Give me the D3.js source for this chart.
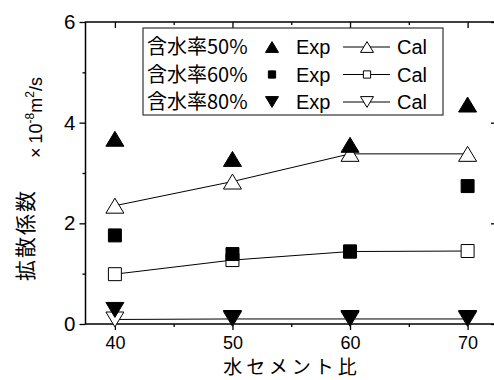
<!DOCTYPE html>
<html>
<head>
<meta charset="utf-8">
<script src="https://cdn.jsdelivr.net/npm/d3@7"></script>
<style>
  body { margin: 0; background: #fff; }
  text { font-family: "Liberation Sans", Arial, "Noto Sans CJK JP", sans-serif; fill: #000; }
  .jp { font-family: "Noto Sans CJK JP", "Liberation Sans", sans-serif; }
</style>
</head>
<body>
<div id="chart"></div>
<script>
// data
var ratios = [40, 50, 60, 70];
var exp50 = [3.68, 3.28, 3.56, 4.36];
var cal50 = [2.35, 2.83, 3.38, 3.38];
var exp60 = [1.76, 1.39, 1.44, 2.74];
var cal60 = [0.99, 1.27, 1.44, 1.45];
var exp80 = [0.28, 0.12, 0.12, 0.12];
var cal80 = [0.09, 0.1, 0.1, 0.1];
var xTicks = [40, 50, 60, 70];
var yTicks = [0, 2, 4, 6];
var legendNames = ["含水率50%", "含水率60%", "含水率80%"];

var W = 494, H = 380;
var margin = {top: 22, right: -3, bottom: 56, left: 85.5},
    width = W - margin.left - margin.right,
    height = H - margin.top - margin.bottom;

var svg = d3.select("#chart")
    .append("svg")
      .attr("width", W)
      .attr("height", H)
    .append("g")
      .attr("transform", "translate(" + margin.left + "," + margin.top + ")");

var x = d3.scaleLinear().domain([37.5, 72.5]).range([0, width]);
var y = d3.scaleLinear().domain([0, 6]).range([height, 0]);

// marker shapes
function shape(type, s, sq) {
    var h = s * 0.83;
    if (type == "up") return "M0," + (-h/2) + "L" + (s/2) + "," + (h/2) + "L" + (-s/2) + "," + (h/2) + "Z";
    if (type == "down") return "M0," + (h/2) + "L" + (s/2) + "," + (-h/2) + "L" + (-s/2) + "," + (-h/2) + "Z";
    var q = s * (sq || 0.36);
    return "M" + (-q) + "," + (-q) + "h" + (2*q) + "v" + (2*q) + "h" + (-2*q) + "Z";
}

// axes (Origin style: bottom/left ticks out, top/right ticks in)
function drawAxes() {
    var minorX = [45, 55, 65], minorY = [1, 3, 5];
    var bottom = svg.append("g").attr("transform", "translate(0," + height + ")")
        .call(d3.axisBottom(x).tickValues(xTicks).tickSize(6).tickPadding(6).tickFormat(d3.format("d")));
    bottom.select(".domain").remove();
    bottom.selectAll("text").style("font-size", "18px");
    svg.append("g").attr("transform", "translate(0," + height + ")")
        .call(d3.axisBottom(x).tickValues(minorX).tickSize(3).tickFormat(""))
        .select(".domain").remove();

    var left = svg.append("g")
        .call(d3.axisLeft(y).tickValues(yTicks).tickSize(6).tickPadding(4).tickFormat(d3.format("d")));
    left.select(".domain").remove();
    left.selectAll("text").style("font-size", "20.5px");
    svg.append("g")
        .call(d3.axisLeft(y).tickValues(minorY).tickSize(3).tickFormat(""))
        .select(".domain").remove();

    svg.append("g")
        .call(d3.axisTop(x).tickValues(xTicks).tickSize(-6).tickFormat(""))
        .select(".domain").remove();
    svg.append("g")
        .call(d3.axisTop(x).tickValues(minorX).tickSize(-3).tickFormat(""))
        .select(".domain").remove();
    svg.append("g").attr("transform", "translate(" + width + ",0)")
        .call(d3.axisRight(y).tickValues(yTicks).tickSize(-6).tickFormat(""))
        .select(".domain").remove();
    svg.append("g").attr("transform", "translate(" + width + ",0)")
        .call(d3.axisRight(y).tickValues(minorY).tickSize(-3).tickFormat(""))
        .select(".domain").remove();

    svg.selectAll(".tick line").attr("stroke", "#000").attr("stroke-width", 1.3);

    svg.append("rect")
        .attr("x", 0).attr("y", 0)
        .attr("width", width).attr("height", height)
        .attr("fill", "none").attr("stroke", "#000").attr("stroke-width", 1.5);
}
drawAxes();

var line = d3.line()
    .x(function(d) { return x(d[0]); })
    .y(function(d) { return y(d[1]); });

var calSeries = [{vals: cal50, type: "up"}, {vals: cal60, type: "sq"}, {vals: cal80, type: "down"}];
var expSeries = [{vals: exp50, type: "up"}, {vals: exp60, type: "sq"}, {vals: exp80, type: "down"}];

calSeries.forEach(function(s) {
    var pts = ratios.map(function(r, i) { return [r, s.vals[i]]; });
    svg.append("path")
        .datum(pts)
        .attr("d", line)
        .attr("fill", "none")
        .attr("stroke", "#000")
        .attr("stroke-width", 1);
    svg.selectAll(null)
        .data(pts)
        .enter()
        .append("path")
          .attr("transform", function(d) { return "translate(" + x(d[0]) + "," + y(d[1]) + ")"; })
          .attr("d", shape(s.type, 18))
          .attr("fill", "#fff")
          .attr("stroke", "#000")
          .attr("stroke-width", 1);
});

expSeries.forEach(function(s) {
    var pts = ratios.map(function(r, i) { return [r, s.vals[i]]; });
    svg.selectAll(null)
        .data(pts)
        .enter()
        .append("path")
          .attr("transform", function(d) { return "translate(" + x(d[0]) + "," + y(d[1]) + ")"; })
          .attr("d", shape(s.type, 18))
          .attr("fill", "#000")
          .attr("stroke", "#000")
          .attr("stroke-width", 1);
});

// legend
var lg = svg.append("g").attr("transform", "translate(" + (143 - margin.left) + "," + (28 - margin.top) + ")");
lg.append("rect")
    .attr("width", 300).attr("height", 87)
    .attr("fill", "#fff").attr("stroke", "#333").attr("stroke-width", 1.2);

legendNames.forEach(function(name, i) {
    var cy = 19 + i * 27.5;
    var t = expSeries[i].type;
    lg.append("text").attr("class", "jp")
        .attr("x", 4).attr("y", cy).attr("dy", "0.35em")
        .style("font-size", "20px")
        .text(name);
    lg.append("path")
        .attr("transform", "translate(129," + cy + ")")
        .attr("d", shape(t, 13, 0.28)).attr("fill", "#000").attr("stroke", "#000");
    lg.append("text")
        .attr("x", 153).attr("y", cy).attr("dy", "0.35em")
        .style("font-size", "20px").text("Exp");
    lg.append("line")
        .attr("x1", 200).attr("x2", 247).attr("y1", cy).attr("y2", cy)
        .attr("stroke", "#000").attr("stroke-width", 1);
    lg.append("path")
        .attr("transform", "translate(224," + cy + ")")
        .attr("d", shape(t, 13, 0.28)).attr("fill", "#fff").attr("stroke", "#000").attr("stroke-width", 1);
    lg.append("text")
        .attr("x", 254).attr("y", cy).attr("dy", "0.35em")
        .style("font-size", "20px").text("Cal");
});

// axis titles
var root = d3.select("svg");
root.append("text").attr("class", "jp")
    .attr("x", 292).attr("y", 374)
    .attr("text-anchor", "middle")
    .style("font-size", "19px")
    .style("letter-spacing", "4px")
    .text("水セメント比");

root.append("text")
    .attr("transform", "translate(33,235) rotate(-90)")
    .attr("text-anchor", "middle")
    .attr("class", "jp")
    .style("font-size", "21px")
    .style("letter-spacing", "2px")
    .text("拡散係数");

var yu = root.append("text")
    .attr("transform", "translate(42,158) rotate(-90)")
    .style("font-size", "18px");
yu.append("tspan").text("×");
yu.append("tspan").attr("dx", 4).text("10");
yu.append("tspan").attr("dy", -8).style("font-size", "12px").text("-8");
yu.append("tspan").attr("dy", 8).text("m");
yu.append("tspan").attr("dy", -8).style("font-size", "12px").text("2");
yu.append("tspan").attr("dy", 8).text("/s");
</script>
</body>
</html>
